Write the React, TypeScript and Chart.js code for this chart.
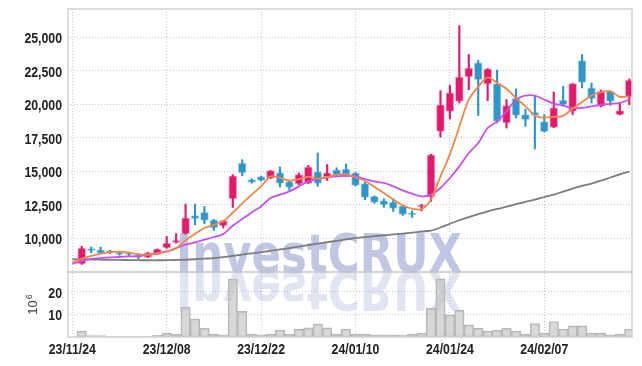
import React, { useEffect, useRef } from "react";
import { Chart, registerables } from "chart.js";

Chart.register(...registerables);

const dates = [
  "23/11/24","23/11/27","23/11/28","23/11/29","23/11/30","23/12/01","23/12/04","23/12/05","23/12/06","23/12/07",
  "23/12/08","23/12/11","23/12/12","23/12/13","23/12/14","23/12/15","23/12/18","23/12/19","23/12/20","23/12/21",
  "23/12/22","23/12/26","23/12/27","23/12/28","24/01/02","24/01/03","24/01/04","24/01/05","24/01/08","24/01/09",
  "24/01/10","24/01/11","24/01/12","24/01/15","24/01/16","24/01/17","24/01/18","24/01/19","24/01/22","24/01/23",
  "24/01/24","24/01/25","24/01/26","24/01/29","24/01/30","24/01/31","24/02/01","24/02/02","24/02/05","24/02/06",
  "24/02/07","24/02/08","24/02/13","24/02/14","24/02/15","24/02/16","24/02/19","24/02/20","24/02/21","24/02/22",
];

const openP = [null, 8075, 9220, 9140, 9070, 8940, 8870, 8770, 8570, 8790,
  9270, 9690, 10340, 11680, 11930, 11380, 10930, 12930, 15610, 14370,
  14590, 14460, 14890, 14220, 14050, 14090, 14960, 14570, 15110, 15160,
  14870, 14070, 13120, 12800, 12700, 12420, 11880, 12350, 13075, 17970,
  19460, 20210, 22030, 23075, 21510, 21530, 18600, 20460, 19220, 19390,
  18700, 18270, 20310, 19460, 23250, 21210, 19840, 20950, 19220, 20540];
const highP = [null, 9390, 9340, 9340, 9100, 9000, 8970, 8850, 8930, 9200,
  10130, 10340, 12550, 12550, 12370, 11400, 11320, 14740, 15860, 14440,
  14640, 15050, 15310, 14310, 14870, 15430, 16360, 15490, 15260, 15540,
  14900, 14160, 13150, 12950, 12950, 12450, 12050, 12520, 16260, 21010,
  21400, 25860, 23700, 23270, 22650, 22550, 20340, 21140, 19640, 20580,
  19220, 20910, 21330, 21540, 23700, 21580, 21050, 21000, 20130, 21880];
const lowP = [null, 8050, 8900, 8850, 8850, 8720, 8680, 8470, 8560, 8780,
  9250, 9640, 10300, 11000, 11080, 10580, 10760, 12300, 14660, 14100,
  14260, 14450, 13820, 13570, 14000, 14080, 13870, 14310, 14610, 14610,
  13900, 12870, 12600, 12300, 12000, 11700, 11550, 12050, 12750, 17550,
  18900, 20090, 21080, 19160, 20260, 18600, 18220, 18970, 18340, 16660,
  17940, 18250, 19940, 19220, 21210, 20090, 19800, 19910, 19200, 19960];
const closeP = [null, 9270, 9070, 8870, 8900, 8790, 8800, 8570, 8920, 9190,
  9640, 9840, 11530, 11460, 11330, 10760, 11310, 14660, 14870, 14170,
  14310, 15040, 14090, 13790, 14740, 15310, 14090, 14870, 14720, 14760,
  13940, 13050, 12670, 12480, 12220, 11780, 11750, 12500, 16230, 19960,
  20840, 22030, 22700, 21830, 22630, 18720, 19890, 19165, 18840, 19165,
  17950, 19720, 19960, 21530, 21630, 20410, 20960, 20210, 19515, 21780];

// volume in millions (10^6)
const volume = [null, 2.6, 0.6, 0.6, 0.2, 0.2, 0.2, 0.2, 0.3, 0.7,
  1.7, 1.3, 13.2, 8.0, 3.9, 1.3, 0.9, 25.6, 11.3, 1.3,
  1.0, 1.3, 3.0, 1.3, 3.5, 4.0, 5.8, 4.0, 1.3, 3.5,
  1.3, 1.3, 1.0, 1.0, 1.0, 0.7, 1.3, 1.7, 12.6, 25.6,
  9.7, 11.7, 5.3, 3.9, 2.6, 3.0, 3.9, 2.6, 1.3, 5.9,
  1.7, 6.8, 3.5, 4.9, 4.9, 1.7, 1.7, 0.9, 1.3, 3.5];

const ma5 = [8190, 8470, 8690, 8840, 8970, 9000, 8920, 8800, 8780, 8850,
  9000, 9230, 9850, 10330, 10760, 10990, 11280, 11900, 12580, 13250,
  13860, 14610, 14500, 14300, 14400, 14600, 14450, 14570, 14750, 14760,
  14550, 14270, 13830, 13380, 12880, 12450, 12200, 12160, 12900, 14600,
  16250, 18310, 20350, 21300, 22000, 21580, 21150, 20450, 19850, 19160,
  19000, 19050, 19130, 19660, 20160, 20650, 20900, 20950, 20550, 20580];
const ma20 = [8100, 8300, 8450, 8520, 8570, 8600, 8640, 8670, 8750, 8900,
  9015, 9270, 9515, 9690, 9890, 10090, 10310, 10930, 11430, 11925,
  12370, 13000, 13250, 13490, 13870, 14240, 14420, 14540, 14610, 14660,
  14610, 14420, 14240, 14120, 13870, 13570, 13320, 13120, 13250, 13750,
  14490, 15360, 16360, 17100, 18220, 18720, 19460, 20340, 20640, 20640,
  20340, 20040, 19890, 19720, 19720, 19840, 19960, 20020, 20090, 20340];
const ma60 = [8430, 8420, 8410, 8400, 8390, 8380, 8370, 8360, 8355, 8355,
  8360, 8375, 8395, 8430, 8475, 8520, 8590, 8680, 8780, 8870,
  8960, 9060, 9160, 9260, 9370, 9480, 9590, 9700, 9810, 9910,
  10010, 10080, 10150, 10220, 10280, 10340, 10420, 10500, 10570, 10800,
  11080, 11340, 11580, 11800, 12010, 12180, 12350, 12540, 12720, 12880,
  13075, 13250, 13480, 13700, 13900, 14080, 14300, 14530, 14760, 14990];

const yTicks = [10000, 12500, 15000, 17500, 20000, 22500, 25000];
const volTicks = [10, 20];
const xTickIdx = [0, 10, 20, 30, 40, 50];

const UP = "#e5196b";
const DOWN = "#2e96c8";
const LABEL_FONT = "bold 15px 'Liberation Sans', Arial, sans-serif";
const GRID = "#c6c8dc";

export default function App() {
  const ref = useRef<HTMLCanvasElement | null>(null);

  useEffect(() => {
    const canvas = ref.current;
    if (!canvas) return;
    const idx = dates.map((_, i) => i);
    const candleIdx = idx.filter((i) => openP[i] != null);
    const isUp = (i: number) => (closeP[i] as number) >= (openP[i] as number);

    const wicks = candleIdx.map((i) => ({ x: i, y: [lowP[i], highP[i]] }));
    const bodies = candleIdx.map((i) => ({ x: i, y: [openP[i], closeP[i]] }));
    const vols = candleIdx.map((i) => ({ x: i, y: volume[i] }));
    const line = (arr: number[]) => arr.map((v, i) => ({ x: i, y: v }));

    const colorOf = (ctx: any) => {
      const raw = ctx.raw;
      if (!raw) return UP;
      return isUp(raw.x) ? UP : DOWN;
    };
    const borderOf = (ctx: any) => {
      const raw = ctx.raw;
      if (!raw) return UP;
      return isUp(raw.x) ? "rgba(229,25,107,0.35)" : "rgba(46,150,200,0.35)";
    };

    const watermark = {
      id: "watermark",
      beforeDatasetsDraw(chart: any) {
        const c = chart.ctx;
        const text = "InvestCRUX";
        const x0 = 176, x1 = 462;
        const base = chart.scales.yv.top;
        c.save();
        c.font = "bold 54px 'DejaVu Sans', sans-serif";
        const w = c.measureText(text).width;
        const sx = (x1 - x0) / w;
        c.textBaseline = "alphabetic";
        c.translate(x0, base);
        c.scale(sx, 1);
        c.fillStyle = "rgba(145,158,208,0.58)";
        c.fillText(text, 0, 0);
        c.scale(1, -1);
        c.fillStyle = "rgba(145,158,208,0.27)";
        c.fillText(text, 0, 0);
        c.restore();
      },
    };

    // condensed tick labels, placed with the chart's own scales
    const condensedTicks = {
      id: "condensedTicks",
      afterDraw(chart: any) {
        const c = chart.ctx;
        const { x, y, yv } = chart.scales;
        const put = (text: string, px: number, py: number, align: CanvasTextAlign) => {
          c.save();
          c.translate(px, py);
          c.scale(0.82, 1);
          c.textAlign = align;
          c.textBaseline = "alphabetic";
          c.fillText(text, 0, 0);
          c.restore();
        };
        c.save();
        c.font = LABEL_FONT;
        c.fillStyle = "#222";
        yTicks.forEach((v) => put(v.toLocaleString("en-US"), y.left + y.width - 6, y.getPixelForValue(v) + 6, "right"));
        volTicks.forEach((v) => put(String(v), yv.left + yv.width - 6, yv.getPixelForValue(v) + 6, "right"));
        xTickIdx.forEach((i) => put(dates[i], x.getPixelForValue(i), x.top + 17, "center"));
        c.restore();
      },
    };

    const frame = {
      id: "frame",
      afterDraw(chart: any) {
        const c = chart.ctx;
        const a = chart.chartArea;
        const yv = chart.scales.yv;
        c.save();
        c.strokeStyle = "#d2d2d2";
        c.lineWidth = 1.5;
        c.strokeRect(a.left, a.top, a.right - a.left, a.bottom - a.top);
        c.strokeStyle = "#c6c6c6";
        c.beginPath();
        c.moveTo(a.left, yv.top);
        c.lineTo(a.right, yv.top);
        c.stroke();
        // volume unit title
        const cy = (yv.top + yv.bottom) / 2;
        c.fillStyle = "#444";
        c.font = "13px 'Liberation Sans', sans-serif";
        const w1 = c.measureText("10").width;
        c.font = "9px 'Liberation Sans', sans-serif";
        const w2 = c.measureText("6").width;
        const total = w1 + w2 + 1;
        c.translate(37, cy + total / 2);
        c.rotate(-Math.PI / 2);
        c.textBaseline = "alphabetic";
        c.font = "13px 'Liberation Sans', sans-serif";
        c.fillText("10", 0, 0);
        c.font = "9px 'Liberation Sans', sans-serif";
        c.fillText("6", w1 + 1, -5);
        c.restore();
      },
    };

    const chart = new Chart(canvas, {
      type: "bar",
      data: {
        datasets: [
          {
            type: "line",
            data: line(ma5),
            borderColor: "#f0874b",
            borderWidth: 1.8,
            pointRadius: 0,
            tension: 0.3,
            order: 0,
            yAxisID: "y",
          } as any,
          {
            type: "line",
            data: line(ma20),
            borderColor: "#c850eb",
            borderWidth: 1.8,
            pointRadius: 0,
            tension: 0.3,
            order: 0.5,
            yAxisID: "y",
          } as any,
          {
            type: "line",
            data: line(ma60),
            borderColor: "#7d7d7d",
            borderWidth: 1.8,
            pointRadius: 0,
            tension: 0.3,
            order: 0.8,
            yAxisID: "y",
          } as any,
          {
            type: "bar",
            data: bodies as any,
            backgroundColor: colorOf,
            borderColor: borderOf,
            borderWidth: 1,
            borderSkipped: false,
            barThickness: 8,
            grouped: false,
            order: 2,
            yAxisID: "y",
          } as any,
          {
            type: "bar",
            data: wicks as any,
            backgroundColor: colorOf,
            borderWidth: 0,
            barThickness: 1.5,
            grouped: false,
            order: 3,
            yAxisID: "y",
          } as any,
          {
            type: "bar",
            data: vols as any,
            backgroundColor: "rgba(190,190,190,0.6)",
            borderColor: "#b8b8b8",
            borderWidth: 1,
            borderSkipped: false,
            barThickness: 9.44,
            grouped: false,
            order: 4,
            yAxisID: "yv",
          } as any,
        ],
      },
      options: {
        animation: false,
        responsive: false,
        layout: { padding: { top: 9, right: 10, left: 0, bottom: 0 } },
        plugins: { legend: { display: false }, tooltip: { enabled: false } },
        scales: {
          x: {
            type: "linear",
            offset: false,
            min: -0.455,
            max: 59.29,
            afterBuildTicks: (s: any) => {
              s.ticks = xTickIdx.map((v) => ({ value: v }));
            },
            afterFit: (s: any) => {
              s.height = 29;
            },
            ticks: { display: false },
            grid: { color: GRID, drawTicks: false, lineWidth: 1, offset: false },
            border: { display: false, dash: [1, 2] },
          },
          yv: {
            type: "linear",
            position: "left",
            stack: "panes",
            stackWeight: 1,
            min: 0,
            max: 28.6,
            afterBuildTicks: (s: any) => {
              s.ticks = volTicks.map((v) => ({ value: v }));
            },
            afterFit: (s: any) => {
              s.width = 68;
            },
            ticks: { display: false },
            grid: { color: GRID, drawTicks: false, lineWidth: 1 },
            border: { display: false, dash: [1, 2] },
          },
          y: {
            type: "linear",
            position: "left",
            stack: "panes",
            stackWeight: 4.046,
            min: 7480,
            max: 27100,
            afterBuildTicks: (s: any) => {
              s.ticks = yTicks.map((v) => ({ value: v }));
            },
            afterFit: (s: any) => {
              s.width = 68;
            },
            ticks: { display: false },
            grid: { color: GRID, drawTicks: false, lineWidth: 1 },
            border: { display: false, dash: [1, 2] },
          },
        },
      } as any,
      plugins: [watermark, frame, condensedTicks],
    });

    return () => chart.destroy();
  }, []);

  return (
    <div style={{ position: "fixed", left: 0, top: 0, width: 642, height: 366, background: "#fff" }}>
      <canvas ref={ref} width={642} height={366} />
    </div>
  );
}
